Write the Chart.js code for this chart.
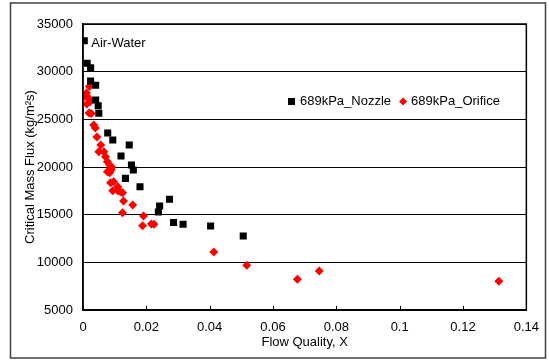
<!DOCTYPE html>
<html>
<head>
<meta charset="utf-8">
<script src="https://cdn.jsdelivr.net/npm/chart.js@4.4.0/dist/chart.umd.min.js"></script>
<style>
  html, body { margin: 0; padding: 0; background: #fff; }
  #wrap { width: 549px; height: 360px; }
</style>
</head>
<body>
<div id="wrap"><canvas id="myChart" width="549" height="360"></canvas></div>
<script>
// datos
const nozzleLabel = "689kPa_Nozzle";
const orificeLabel = "689kPa_Orifice";
const nota = "Air-Water";

const nozzleX = [0.0004, 0.0013, 0.0024, 0.0024, 0.0040, 0.0040, 0.0048, 0.0050, 0.0078, 0.0094,
                 0.0146, 0.0120, 0.0153, 0.0159, 0.0134, 0.0180, 0.0273, 0.0242, 0.0238, 0.0286,
                 0.0316, 0.0403, 0.0506];
const nozzleY = [33250, 30880, 30420, 29020, 28570, 27030, 26430, 25630, 23560, 22830,
                 22310, 21150, 20210, 19680, 18810, 17930, 16610, 15910, 15280, 14180,
                 14000, 13810, 12760];

const orificeX = [0.0020, 0.0011, 0.0005, 0.0016, 0.0023, 0.0012, 0.0019, 0.0026, 0.0034, 0.0039,
                  0.0044, 0.0056, 0.0050, 0.0066, 0.0071, 0.0077, 0.0084, 0.0091, 0.0077, 0.0089,
                  0.0084, 0.0087, 0.0097, 0.0094, 0.0110, 0.0118, 0.0125, 0.0110, 0.0128, 0.0157,
                  0.0125, 0.0191, 0.0188, 0.0216, 0.0224, 0.0413, 0.0517, 0.0677, 0.0746, 0.1313];
const orificeY = [28440, 27760, 27400, 27290, 26870, 26610, 25660, 25610, 24400, 24090,
                  23150, 22310, 21600, 21600, 21080, 20560, 20210, 19970, 19500, 19680,
                  19400, 18350, 18460, 17510, 17930, 17410, 17300, 17510, 16430, 16010,
                  15210, 14860, 13840, 14020, 13990, 11080, 9690, 8220, 9090, 8010];

const xTicks = [0, 0.02, 0.04, 0.06, 0.08, 0.1, 0.12, 0.14];
const yTicks = [5000, 10000, 15000, 20000, 25000, 30000, 35000];

const fuente = "'Liberation Sans', Arial, sans-serif";

function puntos(xs, ys) {
    return xs.map((x, i) => ({ x: x, y: ys[i] }));
}

// marco, borde del area, marcas del eje x, leyenda y nota
const extras = {
    id: 'extras',
    afterDraw(chart) {
        const ctx = chart.ctx;
        const area = chart.chartArea;
        const sx = chart.scales.x;
        const sy = chart.scales.y;
        ctx.save();

        ctx.strokeStyle = '#000';
        ctx.lineWidth = 1.5;
        ctx.strokeRect(area.left, area.top, area.right - area.left, area.bottom - area.top);

        ctx.lineWidth = 1;
        ctx.beginPath();
        xTicks.forEach(t => {
            const px = Math.round(sx.getPixelForValue(t)) + 0.5;
            ctx.moveTo(px, area.bottom);
            ctx.lineTo(px, area.bottom - 4);
        });
        ctx.stroke();

        ctx.strokeStyle = '#404040';
        ctx.lineWidth = 1.5;
        ctx.strokeRect(10.5, 3, 535, 355);

        ctx.font = "13px " + fuente;
        ctx.textBaseline = 'middle';
        ctx.fillStyle = '#000';

        // leyenda
        let lx = 288;
        const ly = 101.5;
        ctx.fillStyle = '#000';
        ctx.fillRect(lx, ly - 3.5, 7, 7);
        lx += 12;
        ctx.fillText(nozzleLabel, lx, ly);
        lx += ctx.measureText(nozzleLabel).width + 8;
        ctx.fillStyle = '#ff0000';
        ctx.beginPath();
        ctx.moveTo(lx + 4, ly - 4);
        ctx.lineTo(lx + 8, ly);
        ctx.lineTo(lx + 4, ly + 4);
        ctx.lineTo(lx, ly);
        ctx.closePath();
        ctx.fill();
        lx += 12;
        ctx.fillStyle = '#000';
        ctx.fillText(orificeLabel, lx, ly);

        // nota junto al primer punto
        const nx = sx.getPixelForValue(nozzleX[0]) + 7;
        const ny = sy.getPixelForValue(nozzleY[0]) + 3;
        ctx.fillText(nota, nx, ny);

        ctx.restore();
    }
};

const ctx = document.getElementById('myChart').getContext('2d');
const chart = new Chart(ctx, {
    type: 'scatter',
    data: {
        datasets: [{
            label: nozzleLabel,
            data: puntos(nozzleX, nozzleY),
            pointStyle: 'rect',
            pointRadius: 5,
            pointHoverRadius: 5,
            backgroundColor: '#000',
            borderColor: '#000',
            borderWidth: 0
        }, {
            label: orificeLabel,
            data: puntos(orificeX, orificeY),
            pointStyle: 'rectRot',
            pointRadius: 4.5,
            pointHoverRadius: 4.5,
            backgroundColor: '#ff0000',
            borderColor: '#ff0000',
            borderWidth: 0
        }]
    },
    plugins: [extras],
    options: {
        responsive: false,
        animation: false,
        events: [],
        layout: {
            padding: { left: 10, right: 16, top: 24, bottom: 0 }
        },
        plugins: {
            legend: { display: false },
            tooltip: { enabled: false }
        },
        scales: {
            x: {
                type: 'linear',
                min: 0,
                max: 0.14,
                afterFit: s => { s.height = 50; },
                afterBuildTicks: s => { s.ticks = xTicks.map(v => ({ value: v })); },
                ticks: {
                    color: '#000',
                    font: { family: fuente, size: 13 },
                    padding: 10,
                    maxRotation: 0,
                    callback: v => String(+v.toFixed(2))
                },
                grid: { display: false, drawTicks: false },
                border: { display: true, color: '#000', width: 1.5 },
                title: {
                    display: true,
                    text: 'Flow Quality, X',
                    color: '#000',
                    font: { family: fuente, size: 13 },
                    padding: { top: 0, bottom: 10 }
                }
            },
            y: {
                type: 'linear',
                min: 5000,
                max: 35000,
                afterFit: s => { s.width = 73; },
                afterBuildTicks: s => { s.ticks = yTicks.map(v => ({ value: v })); },
                ticks: {
                    color: '#000',
                    font: { family: fuente, size: 13 },
                    padding: 10,
                    callback: v => String(v)
                },
                grid: { color: '#000', lineWidth: 1, drawTicks: false },
                border: { display: true, color: '#000', width: 1.5 },
                title: {
                    display: true,
                    text: 'Critical Mass Flux (kg/m\u00b2s)',
                    color: '#000',
                    font: { family: fuente, size: 13 },
                    padding: { top: 13, bottom: 0 }
                }
            }
        }
    }
});
</script>
</body>
</html>
